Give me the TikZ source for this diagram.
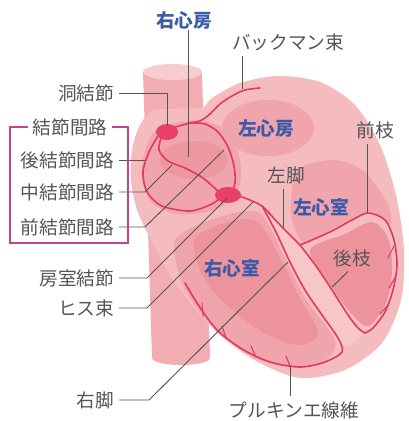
\documentclass[tikz,border=0pt]{standalone}
\usepackage{fontspec}
\newfontfamily\jpfont{Noto Sans CJK JP}
\definecolor{heartpink}{HTML}{F5BCC0}
\definecolor{cavapink}{HTML}{F2ADB3}
\definecolor{cavatop}{HTML}{F8CDD0}
\definecolor{midpink}{HTML}{F0A4AB}
\definecolor{darkpink}{HTML}{EC939C}
\definecolor{septpink}{HTML}{F7C6C9}
\definecolor{condred}{HTML}{E2395F}
\definecolor{nodered}{HTML}{E8406A}
\definecolor{labgray}{HTML}{555555}
\definecolor{chamblue}{HTML}{3B5BA9}
\definecolor{brkmag}{HTML}{C4428F}
\begin{document}
\begin{tikzpicture}[x=0.75pt, y=-0.75pt,
    lab/.style={font=\jpfont\fontsize{14}{16}\selectfont, text=labgray, inner sep=3.5pt},
    chamber/.style={font=\jpfont\bfseries\fontsize{14}{16}\selectfont, text=chamblue, inner sep=1pt},
    lead/.style={draw=labgray, line width=0.7pt},
    cond/.style={draw=condred, line width=1.2pt, line cap=round, line join=round},
    twig/.style={draw=condred, line width=0.8pt, line cap=round},
    brk/.style={draw=brkmag, line width=1pt}]
    \useasboundingbox (0,0) rectangle (408,421);
    % vena cava
    \fill[cavapink] (143,72) -- (202,72) -- (210,358) -- (152,358) -- cycle;
    \fill[cavapink] (181,358) ellipse (29 and 7);
    \fill[cavatop] (172.5,72) ellipse (29.5 and 8);
    % heart body and chambers
    \fill[heartpink] plot[smooth cycle] coordinates {(155,110) (140,125) (132,150) (131,180) (137,210) (150,238) (168,272) (192,305) (222,337) (258,362) (300,378) (345,370) (382,343) (401,300) (404,250) (396,195) (380,145) (355,105) (320,82) (278,76) (240,83) (212,98) (200,108)};
    \fill[midpink] (268,128) ellipse (46 and 28);
    \fill[midpink] plot[smooth cycle] coordinates {(160,128) (195,120) (225,130) (240,160) (238,190) (215,210) (175,214) (150,200) (142,170) (148,142)};
    \fill[darkpink!70!midpink] (194,160) ellipse (34 and 19);
    \fill[midpink] plot[smooth cycle] coordinates {(300,168) (335,160) (365,172) (388,205) (390,225) (370,212) (335,228) (305,243) (292,220) (292,190)};
    \fill[darkpink] plot[smooth cycle] coordinates {(310,250) (345,234) (372,222) (388,238) (392,270) (386,303) (368,326) (350,312) (330,285)};
    \fill[midpink] plot[smooth cycle] coordinates {(175,240) (205,222) (240,212) (262,215) (282,252) (305,298) (335,340) (325,360) (290,367) (255,358) (225,338) (197,308) (180,278)};
    \fill[darkpink] plot[smooth cycle] coordinates {(195,238) (228,222) (258,222) (280,258) (298,295) (318,332) (300,345) (268,335) (238,315) (212,290) (198,265)};
    \fill[septpink] plot[smooth cycle] coordinates {(264,210) (284,226) (300,246) (318,268) (334,292) (352,320) (362,334) (348,346) (338,342) (320,314) (304,288) (290,262) (276,234)};
    % conduction system
    \draw[cond] plot[smooth] coordinates {(172,128) (190,123) (200,121) (210,114) (220,104) (232,96) (245,90) (260,88)};
    \draw[cond] plot[smooth] coordinates {(190,123) (205,124) (218,132) (228,147) (234,166) (235,183) (231,193)};
    \draw[cond] plot[smooth] coordinates {(161,138) (159,150) (168,161) (185,168) (203,178) (219,192)};
    \draw[cond] plot[smooth] coordinates {(158,136) (149,152) (143,172) (147,192) (162,206) (190,211) (212,204) (221,197)};
    \draw[cond] plot[smooth] coordinates {(236,195) (250,200) (262,206) (270,214)};
    \draw[cond] plot[smooth] coordinates {(262,206) (276,232) (290,262) (305,290) (322,315) (338,338) (342,352) (325,362) (300,367) (270,362) (242,349) (217,330) (199,306) (185,283)};
    \draw[cond] plot[smooth] coordinates {(268,212) (283,228) (300,245)};
    \draw[cond] plot[smooth] coordinates {(300,245) (330,232) (352,220) (368,213) (385,220) (394,240) (397,265) (393,290) (385,312) (373,328) (365,333)};
    \draw[cond] plot[smooth] coordinates {(300,245) (316,266) (332,290) (348,315) (358,328) (365,333)};
    \draw[twig] (203,316) -- (202,303);
    \draw[twig] (226,338) -- (222,326);
    \draw[twig] (256,357) -- (251,346);
    \draw[twig] (290,366) -- (286,356);
    \draw[twig] (394,246) -- (388,258);
    \draw[twig] (396,276) -- (389,288);
    \draw[twig] (388,305) -- (380,314);
    \fill[nodered] (167,132) ellipse (11 and 8);
    \fill[nodered] (228,195) ellipse (13 and 8);
    % labels
    \node[chamber] (tRA) at (184,20) {右心房};
    \node[chamber] (tLA) at (266,128) {左心房};
    \node[chamber] (tLV) at (321,207) {左心室};
    \node[chamber] (tRV) at (232,268) {右心室};
    \node[lab] (tBach) at (288,42) {バックマン束};
    \node[lab, anchor=east] (tSA) at (119,93) {洞結節};
    \node[lab] (tGroup) at (70,127) {結節間路};
    \node[lab, anchor=east] (tPost) at (119,160) {後結節間路};
    \node[lab, anchor=east] (tMid) at (119,192) {中結節間路};
    \node[lab, anchor=east] (tAnt) at (119,227) {前結節間路};
    \node[lab, anchor=east] (tAV) at (119,278) {房室結節};
    \node[lab, anchor=east] (tHis) at (119,308) {ヒス束};
    \node[lab, anchor=east] (tRBB) at (119,400) {右脚};
    \node[lab] (tFront) at (375,130) {前枝};
    \node[lab] (tLBB) at (286,175) {左脚};
    \node[lab] (tBack) at (352,258) {後枝};
    \node[lab] (tPurk) at (294,410) {プルキンエ線維};
    % leaders
    \coordinate (pRA) at (188,157);
    \coordinate (pBach) at (242,89);
    \coordinate (pSA) at (167,126);
    \coordinate (pPost) at (145,160);
    \coordinate (pMid) at (172,165);
    \coordinate (pAnt) at (224,150);
    \coordinate (pAV) at (227,198);
    \coordinate (pHis) at (253,202);
    \coordinate (pRBB) at (288,262);
    \coordinate (pFront) at (367,213);
    \coordinate (pLBB) at (283,228);
    \coordinate (pBack) at (332,287);
    \coordinate (pPurk) at (290,366);
    \draw[lead] (pRA |- tRA.south) -- (pRA);
    \draw[lead] (pBach |- tBach.south) -- (pBach);
    \draw[lead] (tSA.east) -| (pSA);
    \draw[lead] (tPost.east) -- (pPost);
    \draw[lead] (tMid.east) -- ++(26,0) -- (pMid);
    \draw[lead] (tAnt.east) -- ++(26,0) -- (pAnt);
    \draw[lead] (tAV.east) -- ++(28,0) -- (pAV);
    \draw[lead] (tHis.east) -- ++(28,0) -- (pHis);
    \draw[lead] (tRBB.east) -- ++(30,0) -- (pRBB);
    \draw[lead] (pFront |- tFront.south) -- (pFront);
    \draw[lead] (pLBB |- tLBB.south) -- (pLBB);
    \draw[lead] ([xshift=-3pt]tBack.south) -- (pBack);
    \draw[lead] (pPurk) -- (pPurk |- tPurk.north);
    \draw[brk] (tGroup.west) -- (10,127) -- (10,243) -- (128,243) -- (128,127) -- (tGroup.east);
\end{tikzpicture}
\end{document}
